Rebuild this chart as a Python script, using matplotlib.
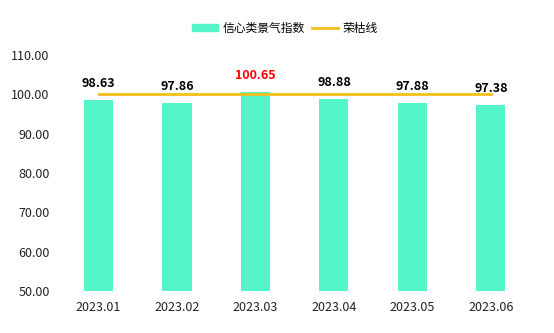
import matplotlib
matplotlib.use("Agg")
import matplotlib.pyplot as plt
from matplotlib.lines import Line2D
from matplotlib.patches import Patch

plt.rcParams['font.family'] = ['Noto Sans CJK SC', 'DejaVu Sans']

months = ['2023.01', '2023.02', '2023.03', '2023.04', '2023.05', '2023.06']
index_values = [98.63, 97.86, 100.65, 98.88, 97.88, 97.38]
boom_line = [100, 100, 100, 100, 100, 100]
y_ticks = [50, 60, 70, 80, 90, 100, 110]

bar_color = '#55F5CA'
line_color = '#F5BE1A'

fig = plt.figure(figsize=(5.54, 3.33), dpi=100)
ax = fig.add_axes([0.107, 0.126, 0.85, 0.709])

x = list(range(len(months)))
ax.bar(x, index_values, width=0.37, color=bar_color, bottom=0, zorder=2)
ax.plot(x, boom_line, color=line_color, linewidth=2, zorder=3)

# value labels above each bar, red when above the boom line
for xi, v in zip(x, index_values):
    color = 'red' if v > 100 else 'black'
    ax.annotate(f'{v:.2f}', (xi, v), xytext=(0, 7), textcoords='offset points',
                ha='center', va='bottom', fontsize=9, fontweight='bold', color=color, zorder=4)

ax.set_ylim(50, 110)
ax.set_xlim(-0.5, len(months) - 0.5)
ax.set_yticks(y_ticks)
ax.set_yticklabels([f'{t:.2f}' for t in y_ticks])
ax.set_xticks(x)
ax.set_xticklabels(months)
ax.tick_params(axis='both', length=0, labelsize=9, colors='#222222')
ax.tick_params(axis='y', pad=7)
ax.tick_params(axis='x', pad=7)
for s in ax.spines.values():
    s.set_visible(False)

handles = [Patch(color=bar_color), Line2D([0], [0], color=line_color, linewidth=2)]
fig.legend(handles, ['信心类景气指数', '荣枯线'], loc='center', bbox_to_anchor=(0.515, 0.915),
           ncol=2, frameon=False, fontsize=8.5, handlelength=2.2, handleheight=0.6,
           columnspacing=0.6, handletextpad=0.4)

fig.savefig('out.png', dpi=100)
